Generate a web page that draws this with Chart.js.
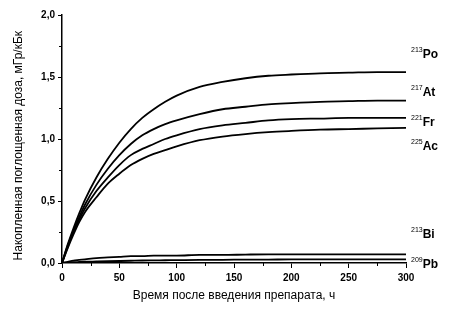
<!DOCTYPE html>
<html>
<head>
<meta charset="utf-8">
<script src="https://cdn.jsdelivr.net/npm/chart.js@4"></script>
<style>
  html,body{margin:0;padding:0;background:#fff;}
  #wrap{width:453px;height:317px;}
</style>
</head>
<body>
<div id="wrap"><canvas id="c" width="453" height="317"></canvas></div>
<script>
// time after injection, h
const hours = [0,5,10,15,20,30,40,50,60,70,80,90,100,120,140,160,180,200,225,250,275,300];
// accumulated absorbed dose, mGy/kBq
const po213 = [0,0.15,0.28,0.40,0.51,0.69,0.84,0.97,1.08,1.17,1.24,1.30,1.35,1.42,1.46,1.49,1.51,1.52,1.53,1.535,1.54,1.54];
const at217 = [0,0.14,0.26,0.37,0.47,0.63,0.76,0.87,0.96,1.03,1.08,1.12,1.15,1.20,1.24,1.26,1.28,1.29,1.30,1.305,1.31,1.31];
const fr221 = [0,0.13,0.25,0.35,0.44,0.58,0.69,0.79,0.87,0.92,0.96,1.00,1.03,1.08,1.11,1.13,1.15,1.16,1.165,1.17,1.17,1.17];
const ac225 = [0,0.12,0.23,0.33,0.41,0.53,0.64,0.72,0.79,0.84,0.88,0.91,0.94,0.99,1.02,1.04,1.055,1.065,1.075,1.08,1.085,1.09];
const bi213 = [0,0.01,0.02,0.025,0.03,0.04,0.045,0.05,0.055,0.055,0.06,0.06,0.06,0.065,0.065,0.068,0.07,0.07,0.07,0.07,0.07,0.07];
const pb209 = [0,0.003,0.006,0.008,0.01,0.012,0.014,0.016,0.018,0.02,0.021,0.022,0.023,0.025,0.026,0.027,0.028,0.029,0.03,0.03,0.03,0.03];

const massNums = ['213','217','221','225','213','209'];
const symbols  = ['Po','At','Fr','Ac','Bi','Pb'];
const series   = [po213,at217,fr221,ac225,bi213,pb209];

const FONT = "'Liberation Sans',Arial,sans-serif";
const labelDy = [-14,-5,8,22,-16,9];

const isoLabels = {
  id:'isoLabels',
  afterDatasetsDraw(chart){
    const ctx = chart.ctx, ca = chart.chartArea;
    ctx.save();
    ctx.fillStyle = '#000';
    ctx.textBaseline = 'alphabetic';
    chart.data.datasets.forEach((ds,i)=>{
      const pts = chart.getDatasetMeta(i).data;
      const y = pts[pts.length-1].y + labelDy[i];
      let x = ca.right + 5;
      ctx.font = '7px ' + FONT;
      ctx.fillText(massNums[i], x, y - 6);
      x += ctx.measureText(massNums[i]).width;
      ctx.font = 'bold 12px ' + FONT;
      ctx.fillText(symbols[i], x, y);
    });
    ctx.restore();
  }
};

// short minor ticks (Chart.js has one tick length only)
const minorTicks = {
  id:'minorTicks',
  afterDraw(chart){
    const ctx = chart.ctx, xs = chart.scales.x, ys = chart.scales.y;
    ctx.save();
    ctx.strokeStyle = '#000'; ctx.lineWidth = 1;
    for (let v = 25; v < 300; v += 50){
      const px = Math.round(xs.getPixelForValue(v)) + 0.5;
      ctx.beginPath(); ctx.moveTo(px, ys.bottom); ctx.lineTo(px, ys.bottom + 3); ctx.stroke();
    }
    for (let v = 0.25; v < 2; v += 0.5){
      const py = Math.round(ys.getPixelForValue(v)) + 0.5;
      ctx.beginPath(); ctx.moveTo(xs.left, py); ctx.lineTo(xs.left - 3, py); ctx.stroke();
    }
    ctx.restore();
  }
};

new Chart(document.getElementById('c').getContext('2d'), {
  type:'line',
  data:{
    datasets: series.map((s,i)=>({
      label: massNums[i]+symbols[i],
      data: hours.map((h,k)=>({x:h,y:s[k]})),
      borderColor:'#000', borderWidth:1.8, pointRadius:0,
      cubicInterpolationMode:'monotone', fill:false
    }))
  },
  options:{
    responsive:false, animation:false,
    layout:{padding:{left:0,top:15,right:47,bottom:0}},
    plugins:{legend:{display:false},tooltip:{enabled:false}},
    scales:{
      x:{
        type:'linear', min:0, max:300,
        afterFit(s){ s.height = 54; },
        grid:{drawOnChartArea:false, tickLength:5, color:'#000',
          tickColor:c=>c.tick && c.tick.value % 50 === 0 ? '#000' : 'rgba(0,0,0,0)'},
        border:{color:'#000', width:1.5},
        ticks:{stepSize:25, autoSkip:false, maxRotation:0, padding:4, color:'#000',
          font:{family:FONT, size:10, weight:'bold'},
          callback:v=> v % 50 === 0 ? String(v) : ''},
        title:{display:true, text:'Время после введения препарата, ч', color:'#000',
          font:{family:FONT, size:12}, padding:{top:4,bottom:14}}
      },
      y:{
        min:0, max:2,
        afterFit(s){ s.width = 62; },
        grid:{drawOnChartArea:false, tickLength:4, color:'#000',
          tickColor:c=>c.tick && Math.abs(c.tick.value*2 - Math.round(c.tick.value*2)) < 1e-6 ? '#000' : 'rgba(0,0,0,0)'},
        border:{color:'#000', width:1.5},
        ticks:{stepSize:0.25, autoSkip:false, padding:3, color:'#000',
          font:{family:FONT, size:10, weight:'bold'},
          callback:v=> Math.abs(v*2 - Math.round(v*2)) < 1e-6 ? v.toFixed(1).replace('.',',') : ''},
        title:{display:true, text:'Накопленная поглощенная доза, мГр/кБк\u00a0\u00a0\u00a0\u00a0', color:'#000',
          font:{family:FONT, size:12}, padding:{top:11,bottom:0}}
      }
    }
  },
  plugins:[isoLabels, minorTicks]
});
</script>
</body>
</html>
